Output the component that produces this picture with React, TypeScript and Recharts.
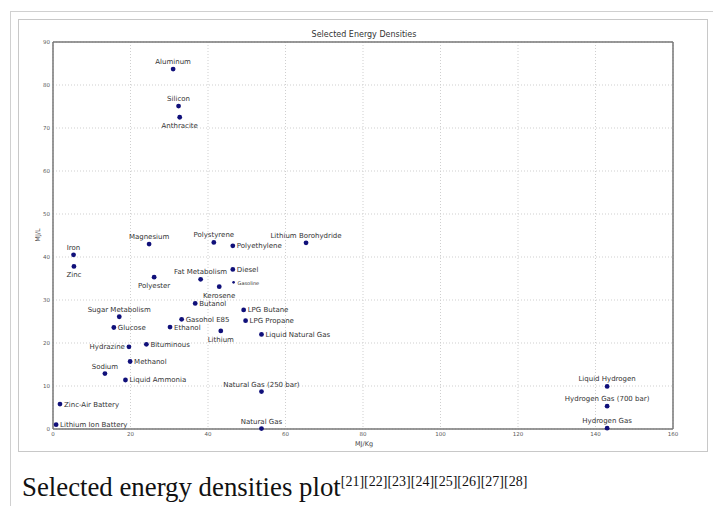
import React from "react";
import {
  ScatterChart,
  Scatter,
  XAxis,
  YAxis,
  CartesianGrid,
  ReferenceLine,
} from "recharts";

// energy carriers
const names = [
  "Aluminum", "Silicon", "Anthracite", "Magnesium", "Polystyrene", "Polyethylene",
  "Lithium Borohydride", "Iron", "Zinc", "Polyester", "Fat Metabolism", "Diesel",
  "Gasoline", "Kerosene", "Butanol", "LPG Butane", "LPG Propane", "Gasohol E85",
  "Ethanol", "Lithium", "Liquid Natural Gas", "Sugar Metabolism", "Glucose",
  "Hydrazine", "Bituminous", "Methanol", "Sodium", "Liquid Ammonia",
  "Natural Gas (250 bar)", "Zinc-Air Battery", "Lithium Ion Battery", "Natural Gas",
  "Liquid Hydrogen", "Hydrogen Gas (700 bar)", "Hydrogen Gas",
];
const mjPerKg = [
  31.0, 32.4, 32.7, 24.8, 41.5, 46.4,
  65.3, 5.3, 5.4, 26.1, 38.1, 46.4,
  46.6, 42.9, 36.7, 49.2, 49.7, 33.2,
  30.2, 43.3, 53.8, 17.1, 15.7,
  19.6, 24.1, 19.9, 13.4, 18.7,
  53.8, 1.8, 0.8, 53.8,
  143.0, 143.0, 143.0,
];
const mjPerL = [
  83.7, 75.1, 72.5, 43.0, 43.4, 42.6,
  43.3, 40.5, 37.8, 35.3, 34.8, 37.1,
  34.1, 33.1, 29.2, 27.7, 25.2, 25.5,
  23.7, 22.8, 22.0, 26.1, 23.6,
  19.1, 19.7, 15.7, 12.9, 11.4,
  8.7, 5.8, 1.0, 0.1,
  9.9, 5.3, 0.2,
];
const xTicks = [0, 20, 40, 60, 80, 100, 120, 140, 160];
const yTicks = [0, 10, 20, 30, 40, 50, 60, 70, 80, 90];

// where each label sits relative to its dot (default: above)
const LABEL_SIDE: Record<string, string> = {
  Anthracite: "below", Zinc: "below", Polyester: "below", Kerosene: "below", Lithium: "below",
  Polyethylene: "right", Diesel: "right", Gasoline: "right", Butanol: "right",
  "LPG Butane": "right", "LPG Propane": "right", "Gasohol E85": "right", Ethanol: "right",
  "Liquid Natural Gas": "right", Glucose: "right", Bituminous: "right", Methanol: "right",
  "Liquid Ammonia": "right", "Zinc-Air Battery": "right", "Lithium Ion Battery": "right",
  Hydrazine: "left",
};

const data = names.map((name, i) => ({ name, x: mjPerKg[i], y: mjPerL[i] }));

const FONT = "'DejaVu Sans', sans-serif";
const DOT = "#10107a";
const TXT = "#333";

function Point(props: any) {
  const { cx, cy, payload } = props;
  const side = LABEL_SIDE[payload.name] ?? "above";
  const small = payload.name === "Gasoline";
  const fs = small ? 5 : 7;
  let tx = cx, ty = cy - 5, anchor: "start" | "middle" | "end" = "middle";
  if (side === "below") ty = cy + 11;
  if (side === "right") { tx = cx + 4; ty = cy + 2.5; anchor = "start"; }
  if (side === "left") { tx = cx - 4; ty = cy + 2.5; anchor = "end"; }
  return (
    <g>
      <circle cx={cx} cy={cy} r={small ? 1.3 : 2.4} fill={DOT} />
      <text x={tx} y={ty} fontSize={fs} fontFamily={FONT} fill={TXT} textAnchor={anchor}>
        {payload.name}
      </text>
    </g>
  );
}

export default function App() {
  return (
    <div style={{ position: "absolute", left: 0, top: 0, width: 713, height: 506, overflow: "hidden", background: "#fff" }}>
      <div style={{ position: "absolute", left: 10, top: 11, width: 740, height: 540, border: "1px solid #d0d0d0" }} />
      <div style={{ position: "absolute", left: 18, top: 19, width: 688, height: 431, border: "1px solid #c8c8c8", background: "#fff" }} />

      <div style={{ position: "absolute", left: 18, top: 19 }}>
        <ScatterChart width={690} height={433} margin={{ top: 23, right: 35, bottom: 0, left: 0 }}>
          <CartesianGrid stroke="#cfcfcf" strokeDasharray="1 2" />
          <XAxis
            type="number"
            dataKey="x"
            domain={[0, 160]}
            ticks={xTicks}
            height={23}
            stroke="#777"
            strokeWidth={1.5}
            tickLine={false}
            tickSize={2}
            tickMargin={1}
            tick={{ fontSize: 5.5, fill: "#5a5a5a", fontFamily: FONT }}
          />
          <YAxis
            type="number"
            dataKey="y"
            domain={[0, 90]}
            ticks={yTicks}
            width={35}
            stroke="#777"
            strokeWidth={1.5}
            tickLine={false}
            tickSize={2}
            tickMargin={1}
            tick={{ fontSize: 5.5, fill: "#5a5a5a", fontFamily: FONT }}
          />
          <ReferenceLine y={90} stroke="#777" strokeWidth={1.5} />
          <ReferenceLine x={160} stroke="#777" strokeWidth={1.5} />
          <Scatter data={data} shape={<Point />} isAnimationActive={false} />
        </ScatterChart>
      </div>

      <div style={{ position: "absolute", left: 264, width: 200, top: 30, textAlign: "center", fontFamily: FONT, fontSize: 8, color: "#333", lineHeight: "10px" }}>
        Selected Energy Densities
      </div>
      <div style={{ position: "absolute", left: 38, top: 235, transform: "translate(-50%, -50%) rotate(-90deg)", fontFamily: FONT, fontSize: 6.5, color: "#444", whiteSpace: "nowrap" }}>
        MJ/L
      </div>
      <div style={{ position: "absolute", left: 314, width: 100, top: 440, textAlign: "center", fontFamily: FONT, fontSize: 6.5, color: "#444", lineHeight: "9px" }}>
        MJ/Kg
      </div>

      <div style={{ position: "absolute", left: 22, top: 467, fontFamily: "'Liberation Serif', serif", fontSize: 26.8, color: "#111", whiteSpace: "nowrap", lineHeight: "30px" }}>
        Selected energy densities plot
        <sup style={{ fontSize: 14 }}>[21][22][23][24][25][26][27][28]</sup>
      </div>
    </div>
  );
}
